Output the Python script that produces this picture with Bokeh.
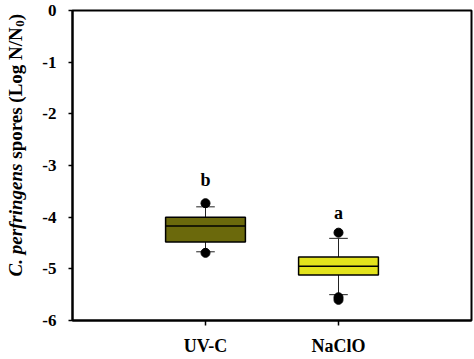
from bokeh.plotting import figure
from bokeh.models import Range1d, FixedTicker, ColumnDataSource
from bokeh.layouts import row
from bokeh.core.properties import value
from bokeh.embed import file_html
from bokeh.resources import INLINE
import math

# ---- data ----
categories = ["UV-C", "NaClO"]
q1 = [-4.48, -5.12]
median = [-4.17, -4.95]
q3 = [-4.00, -4.77]
whisker_low = [-4.67, -5.50]
whisker_high = [-3.80, -4.41]
outlier_cat = ["UV-C", "UV-C", "NaClO", "NaClO", "NaClO"]
outlier_val = [-3.73, -4.69, -4.30, -5.55, -5.60]
letters = ["b", "a"]
letter_y = [-3.28, -3.92]
fill_colors = ["#6b690c", "#e3e31c"]
y_ticks = [0, -1, -2, -3, -4, -5, -6]
y_tick_labels = ["0", "-1", "-2", "-3", "-4", "-5", "-6"]
y_title_parts = ["C. perfringens", "spores (Log N/N", "0", ")"]

FONT = "Liberation Serif"
pos = {c: i + 1 for i, c in enumerate(categories)}
xs = [pos[c] for c in categories]

W, H = 474, 359
LW = 32                      # width of the strip holding the y title
BL, BT, BR, BB = 72 - LW, 10, 3, 39

# ---------- main plot ----------
p = figure(width=W - LW, height=H, x_range=Range1d(0, 3), y_range=Range1d(-6, 0),
           output_backend="svg", toolbar_location=None, title=None,
           min_border_left=BL, min_border_right=BR, min_border_top=BT, min_border_bottom=BB)
p.xgrid.visible = False
p.ygrid.visible = False
p.outline_line_color = "black"
p.outline_line_width = 2
p.background_fill_color = "white"
p.border_fill_color = "white"

p.xaxis.ticker = FixedTicker(ticks=xs)
p.xaxis.major_label_overrides = {pos[c]: c for c in categories}
p.yaxis.ticker = FixedTicker(ticks=y_ticks)
p.yaxis.major_label_overrides = {t: l for t, l in zip(y_ticks, y_tick_labels)}
for ax in (p.xaxis, p.yaxis):
    ax.axis_line_width = 2
    ax.axis_line_color = "black"
    ax.major_tick_line_color = "black"
    ax.major_tick_line_width = 1.5
    ax.major_tick_in = 0
    ax.minor_tick_line_color = None
    ax.major_label_text_font = FONT
    ax.major_label_text_font_style = "bold"
    ax.major_label_text_color = "black"
p.yaxis.major_tick_out = 4
p.xaxis.major_tick_out = 5
p.yaxis.major_label_text_font_size = "17px"
p.xaxis.major_label_text_font_size = "18px"
p.yaxis.major_label_standoff = 12
p.xaxis.major_label_standoff = 10

src = ColumnDataSource(dict(x=xs, q1=q1, q3=q3, med=median, lo=whisker_low, hi=whisker_high,
                            color=fill_colors))
# whiskers
p.segment(x0="x", y0="q3", x1="x", y1="hi", source=src, line_color="#222222", line_width=1)
p.segment(x0="x", y0="q1", x1="x", y1="lo", source=src, line_color="#222222", line_width=1)
cap = 0.07
p.segment(x0=[x - cap for x in xs], y0=whisker_high, x1=[x + cap for x in xs], y1=whisker_high,
          line_color="#222222", line_width=1)
p.segment(x0=[x - cap for x in xs], y0=whisker_low, x1=[x + cap for x in xs], y1=whisker_low,
          line_color="#222222", line_width=1)
# boxes
p.vbar(x="x", width=0.6, top="q3", bottom="q1", source=src, fill_color="color",
       line_color="black", line_width=1.5)
p.segment(x0=[x - 0.3 for x in xs], y0=median, x1=[x + 0.3 for x in xs], y1=median,
          line_color="black", line_width=1.5)
# outliers
p.scatter(x=[pos[c] for c in outlier_cat], y=outlier_val, size=9, color="black")
# letters
p.text(x=xs, y=letter_y, text=letters, text_font=value(FONT), text_font_style="bold",
       text_font_size="18px", text_align="center", text_baseline="middle", text_color="black")

# ---------- strip with rotated y title ----------
t = figure(width=LW, height=H, x_range=Range1d(0, 1), y_range=Range1d(0, 1),
           output_backend="svg", toolbar_location=None, title=None,
           x_axis_type=None, y_axis_type=None,
           min_border_left=0, min_border_right=0, min_border_top=0, min_border_bottom=0)
t.xgrid.visible = False
t.ygrid.visible = False
t.outline_line_color = None
t.background_fill_color = "white"
t.border_fill_color = "white"

fs = 19
sub_fs = 13
styles = ["bold italic", "bold", "bold", "bold"]
sizes = [fs, fs, sub_fs, fs]
gap_em = [0, 0.25, 0, 0]                       # space before each part
widths_em = [5.945, 6.944, 0.5 * sub_fs / fs, 0.333]
xshift = [0, 0, 4, 0]
cx = 15                          # px from left of strip
top_end = 28                     # canvas px from top where the title ends
cur = top_end + sum((g + w) * fs for g, w in zip(gap_em, widths_em))
for txt, st, sz, g, wem, dx in zip(y_title_parts, styles, sizes, gap_em, widths_em, xshift):
    cur -= g * fs
    t.text(x=[0.5], y=[0.5], text=[txt], angle=math.pi / 2,
           x_offset=cx + dx - LW / 2, y_offset=cur - H / 2,
           text_font=value(FONT), text_font_style=st, text_font_size=f"{sz}px",
           text_align="left", text_baseline="middle", text_color="black")
    cur -= wem * fs

layout = row(t, p, spacing=0)
open("out.html", "w").write(file_html(layout, INLINE))
